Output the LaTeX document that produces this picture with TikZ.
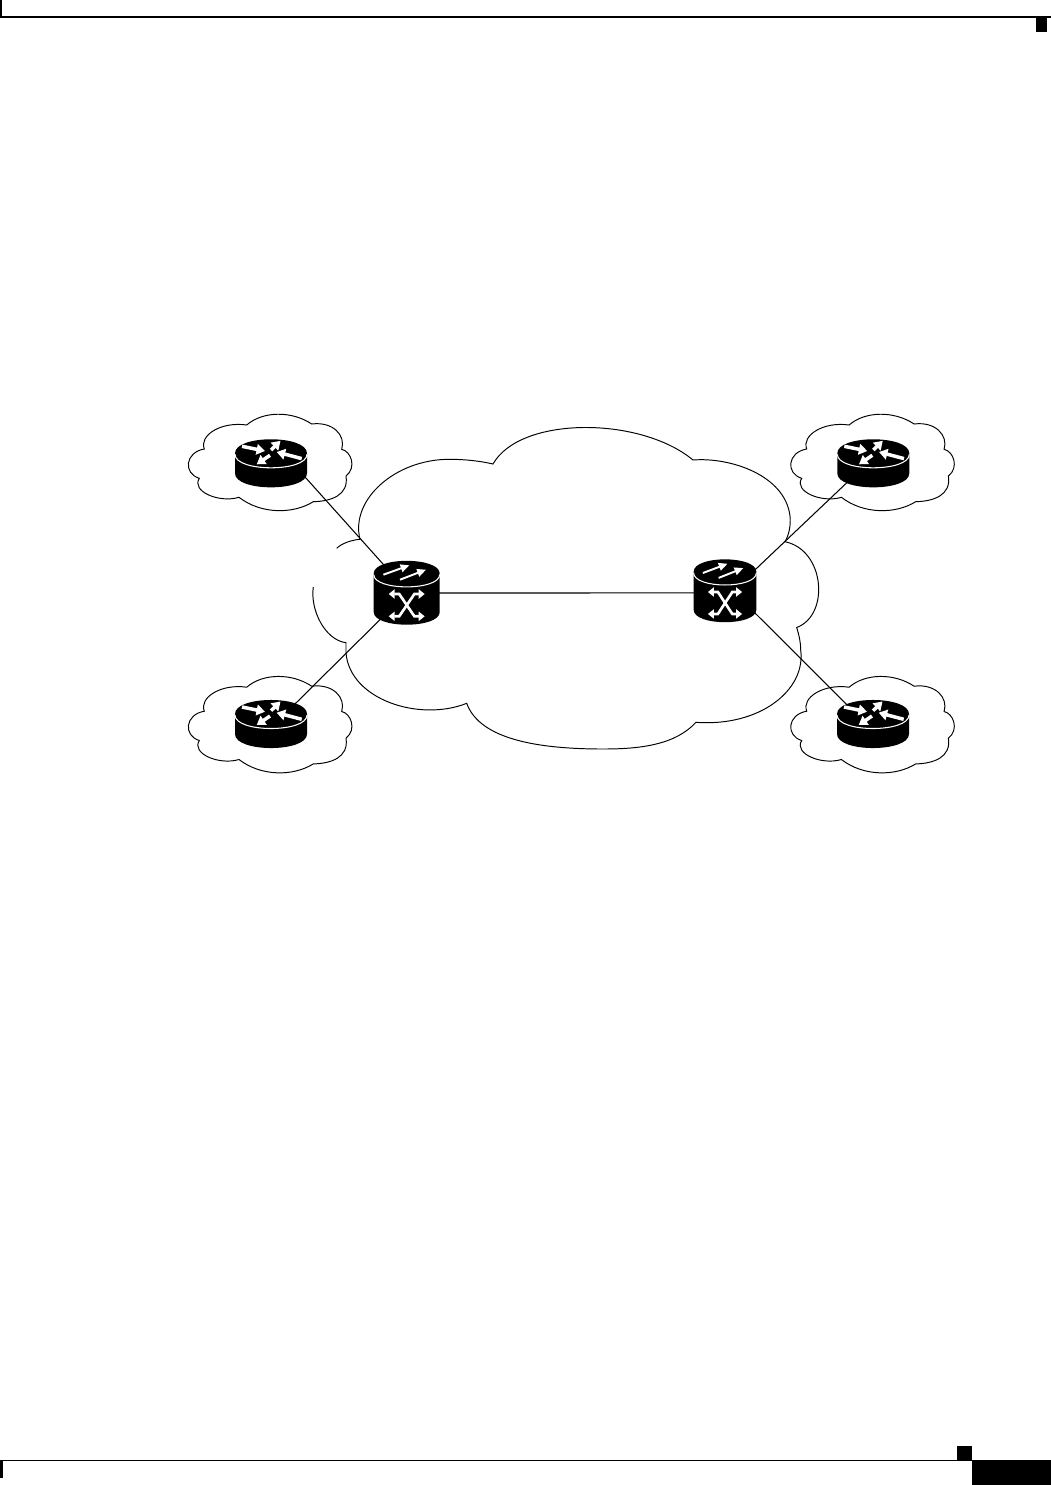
\documentclass[tikz,border=0pt]{standalone}
\usepackage{tikz}
\usetikzlibrary{arrows.meta, backgrounds}

\begin{document}
\begin{tikzpicture}[
      x=0.02cm, y=-0.02cm,
      outline/.style={draw=black, line width=0.55pt},
      linkline/.style={draw=black, line width=0.6pt},
      portbox/.style={inner sep=0pt, outer sep=0pt, transform shape},
      spoke/.style={draw=white, line width=2pt, -{Triangle[length=4.8pt, width=6pt]}},
      thinspoke/.style={draw=white, line width=1.1pt, -{Triangle[length=5pt, width=4.4pt]}},
      crossspoke/.style={draw=white, line width=1.5pt, {Triangle[length=3.4pt, width=5.2pt]}-{Triangle[length=3.4pt, width=5.2pt]}},
      cloudlet/.pic={
        \draw [outline] (-24.3,-28.3) .. controls (-8,-42.5) and (21,-42.5) .. (40.7,-29.3)
          .. controls (62,-32) and (75,-18) .. (70.7,-4)
          .. controls (80,-2) and (86,14) .. (75,22.7)
          .. controls (78,42) and (60,48) .. (42.3,48.4)
          .. controls (22,61) and (-10,61) .. (-32,44)
          .. controls (-52,50) and (-80,38) .. (-71.7,25)
          .. controls (-88,20) and (-86,-1) .. (-66.7,-4.3)
          .. controls (-72,-18) and (-50,-32) .. cycle;
      },
      routericon/.pic={
        \node [portbox, minimum width=1.2cm, minimum height=0.56cm] (-port) at (0,10) {};
        \fill [black] (-36,0) -- (-36,20) .. controls (-36,38.7) and (36,38.7) .. (36,20) -- (36,0)
          .. controls (36,-18.7) and (-36,-18.7) .. cycle;
        \draw [white, line width=0.6pt] (-36,1) .. controls (-36,19) and (36,19) .. (36,1);
        \draw [spoke] (-29,-7) -- (-6,-2.3);
        \draw [spoke] (0,-3.3) -- (9.5,-12.5);
        \draw [spoke] (30.7,5.3) -- (5.7,-1.3);
        \draw [spoke] (-1,2) -- (-14.3,11);
      },
      switchicon/.pic={
        \node [portbox, minimum width=1.12cm, minimum height=0.8cm] (-port) at (0,19.5) {};
        \fill [black] (-33,0) -- (-33,38.5) .. controls (-33,55.4) and (33,55.4) .. (33,38.5) -- (33,0)
          .. controls (33,-16.9) and (-33,-16.9) .. cycle;
        \draw [white, line width=0.6pt] (-33,1) .. controls (-33,17.5) and (33,17.5) .. (33,1);
        \draw [thinspoke] (-23.3,1.2) -- (2.7,-8.2);
        \draw [thinspoke] (-6.7,6.2) -- (19.3,-3.8);
        \draw [crossspoke] (-18,20.5) -- (-7.5,20.5) -- (7.7,42.8) -- (18,42.8);
        \draw [crossspoke] (18,20.5) -- (7.7,20.5) -- (-7.5,42.8) -- (-18,42.8);
      }
    ]
      \useasboundingbox (0,0) rectangle (1051,1485);

      % page furniture
      \fill [black] (0,16.2) rectangle (1051,17.8);
      \fill [black] (0,0) rectangle (2,17);
      \fill [black] (1036,18) rectangle (1047,32);
      \fill [black] (0,1459.6) rectangle (972,1461);
      \fill [black] (0,1460) rectangle (3,1478);
      \fill [black] (957,1446) rectangle (972,1460);
      \fill [black] (972,1460) rectangle (1051,1485);

      % backbone cloud, left open at the west side
      \draw [outline] (336.7,548.3) .. controls (342,543) and (352,540) .. (360,539.3)
        .. controls (350,500) and (395,459) .. (450,459.3)
        .. controls (465,459.3) and (480,461) .. (493,464)
        .. controls (520,416) and (640,416) .. (693,460)
        .. controls (730,457) and (785,475) .. (790,516)
        .. controls (791,525) and (789,535) .. (785,541.7)
        .. controls (825,550) and (830,615) .. (796.7,627.5)
        .. controls (799,635) and (800.7,642) .. (800.7,650)
        .. controls (806,690) and (760,727) .. (696,722.3)
        .. controls (675,745) and (640,749) .. (603,749)
        .. controls (540,749) and (480,740) .. (466.7,703.3)
        .. controls (420,722) and (350,700) .. (346,653)
        -- (346,642.7)
        .. controls (325,640) and (310,610) .. (313.3,587);

      \pic at (271,453.3) {cloudlet};
      \pic at (873.4,453.3) {cloudlet};
      \pic at (271,715.5) {cloudlet};
      \pic at (873.4,715.5) {cloudlet};

      \pic (R1) at (271,453.3) {routericon};
      \pic (R2) at (873.3,453.3) {routericon};
      \pic (R3) at (271,714) {routericon};
      \pic (R4) at (873,714) {routericon};
      \pic (S1) at (406.7,573.5) {switchicon};
      \pic [xscale=0.95, yscale=0.985] (S2) at (725,571.8) {switchicon};

      \begin{scope}[on background layer]
        \draw [linkline] (R1-port.-17) -- (S1-port.128);
        \draw [linkline] (R2-port.214) -- (S2-port.33);
        \draw [linkline] (R3-port.38) -- (S1-port.225);
        \draw [linkline] (R4-port.146) -- (S2-port.-34);
        \draw [linkline] (S1-port.east) -- (S2-port.184.15);
      \end{scope}
    \end{tikzpicture}
\end{document}
